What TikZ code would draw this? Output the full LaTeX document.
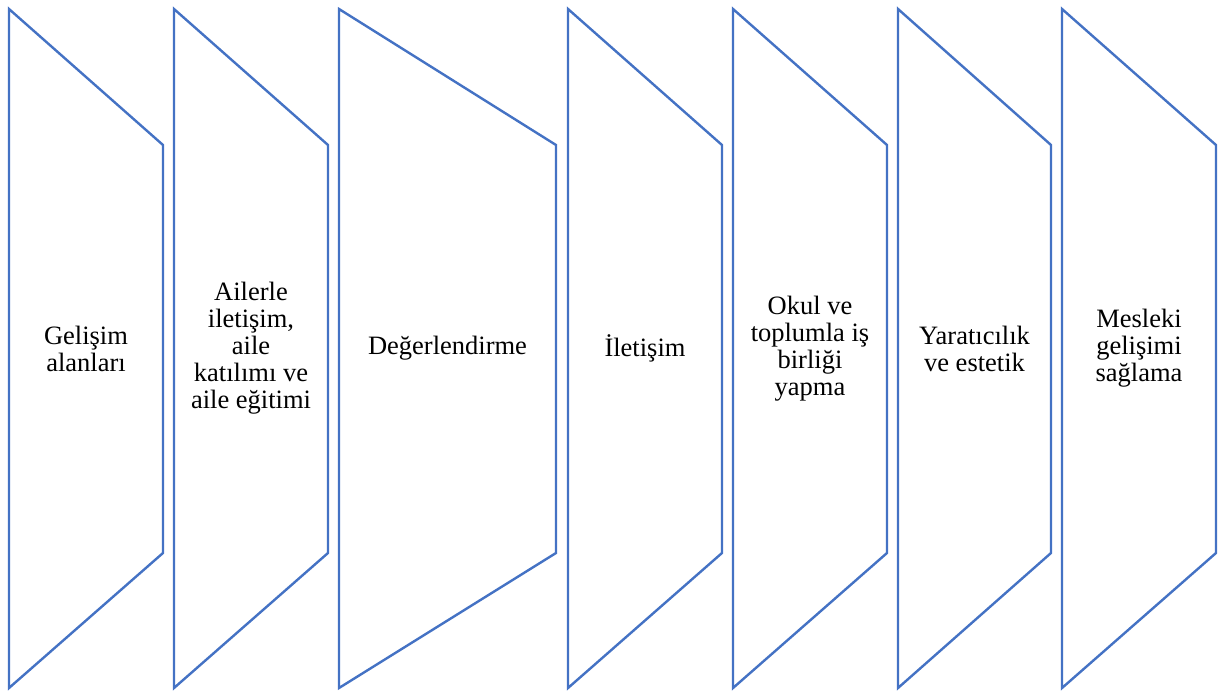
\documentclass[tikz,border=0pt]{standalone}
\usepackage{fontspec}
\setmainfont{Liberation Serif}
\usepackage{xcolor}
\usepackage{tikz}
\usetikzlibrary{positioning}

\definecolor{panelblue}{HTML}{4472C4}

\begin{document}
\begin{tikzpicture}[
        x=1pt, y=-1pt,
        panel/.style={draw=panelblue, line width=2.4pt, fill=white, line join=miter},
        txt/.style={align=center, font=\fontsize{26.5}{27}\selectfont, text=black, inner sep=0pt}
        ]
        \useasboundingbox (0,0) rectangle (1224,693);

        % Panels
        \draw[panel] (9,9) -- (163,145) -- (163,553) -- (9,688) -- cycle;
        \draw[panel] (174,9) -- (328,145) -- (328,553) -- (174,688) -- cycle;
        \draw[panel] (339,9) -- (556,145) -- (556,553) -- (339,688) -- cycle;
        \draw[panel] (568,9) -- (722,145) -- (722,553) -- (568,688) -- cycle;
        \draw[panel] (733,9) -- (887,145) -- (887,553) -- (733,688) -- cycle;
        \draw[panel] (898,9) -- (1051,145) -- (1051,553) -- (898,688) -- cycle;
        \draw[panel] (1062,9) -- (1216,145) -- (1216,553) -- (1062,688) -- cycle;

        % Texts
        \node (gelisim) [txt] at (86,348.5) {Gelişim\\alanları};
        \node (aile) [txt] at (251,348.5) {Ailerle\\iletişim,\\aile\\katılımı ve\\aile eğitimi};
        \node (degerlendirme) [txt] at (447.5,348.5) {Değerlendirme};
        \node (iletisim) [txt] at (645,348.5) {İletişim};
        \node (okul) [txt] at (810,348.5) {Okul ve\\toplumla iş\\birliği\\yapma};
        \node (yaraticilik) [txt] at (974.5,348.5) {Yaratıcılık\\ve estetik};
        \node (mesleki) [txt] at (1139,348.5) {Mesleki\\gelişimi\\sağlama};

    \end{tikzpicture}
\end{document}
